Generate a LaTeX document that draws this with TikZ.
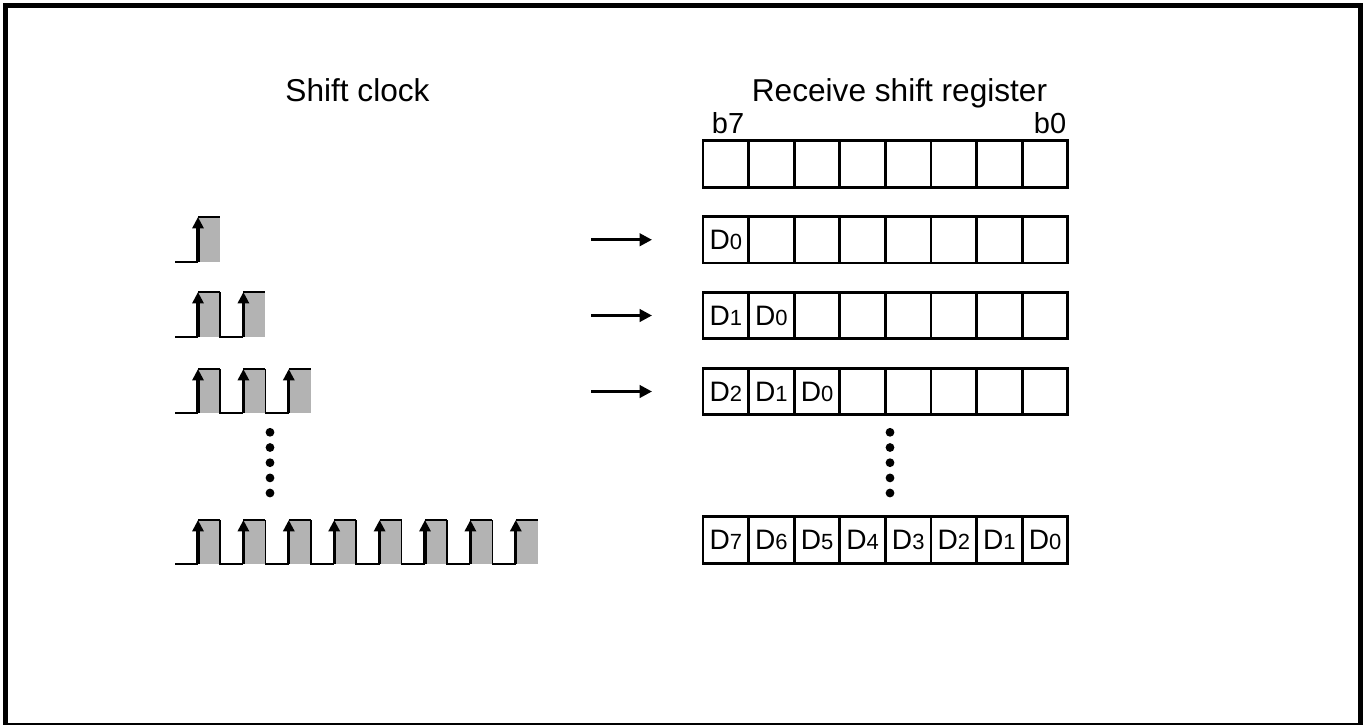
\documentclass[tikz,border=0pt]{standalone}
\usepackage{fontspec}
\setmainfont{Liberation Sans}
\usetikzlibrary{arrows.meta}
\definecolor{pulsegray}{RGB}{179,179,179}
\newcommand{\dbit}[1]{D{\fontsize{12.5}{15}\selectfont #1}}

\begin{document}
\begin{tikzpicture}[x=0.02cm,y=-0.02cm,
    cell/.style={draw,line width=1.5pt,minimum width=0.912cm,minimum height=0.93cm,inner sep=0pt,font=\fontsize{16}{19}\selectfont},
    edge/.style={line width=1pt},
    rise/.style={line width=1.9pt,-{Triangle[length=6.5pt,width=6.3pt]}},
    shiftarrow/.style={line width=1.6pt,-{Triangle[length=7pt,width=7pt]}}]
  \useasboundingbox (0,0) rectangle (1371,724);
  \draw[line width=2.85pt] (5.5,5.5) rectangle (1360.5,725.5);
  \node[anchor=base,font=\fontsize{18}{21}\selectfont] (clk) at (357.5,101) {Shift clock};
  \node[anchor=base,font=\fontsize{18}{21}\selectfont] (rsr) at (899.5,101) {Receive shift register};
  \node[anchor=base,font=\fontsize{16.5}{19}\selectfont] (b7) at (728,133) {b7};
  \node[anchor=base,font=\fontsize{16.5}{19}\selectfont] (b0) at (1050,133) {b0};
  % register contents
  \foreach \r/\y in {0/164,1/239.75,2/315.5,3/391.5,8/540} {
    \foreach \i in {0,...,7} {
      \pgfmathtruncatemacro\d{\r-1-\i}
      \node[cell] (reg\r-\i) at (725.8+45.6*\i,\y) {\ifnum\d<0 \else\dbit{\d}\fi};
    }
  }
  \foreach \r/\y in {1/239.75,2/315.5,3/391.5} {
    \coordinate (s\r) at (591,\y);
    \coordinate (e\r) at (652,\y);
    \draw[shiftarrow] (s\r) -- (e\r);
  }
  % clock pulses
  \foreach \n/\lo/\hi in {1/262/217,2/337/292,3/413/369,8/564/520} {
    \draw[edge] (175,\lo) -- (198,\lo);
    \foreach \k in {1,...,\n} {
      \pgfmathsetmacro\xr{198+45.4*(\k-1)}
      \fill[pulsegray] (\xr,\hi) rectangle (\xr+22,\lo);
      \draw[edge] (\xr,\hi) -- (\xr+22,\hi);
      \ifnum\k<\n \draw[edge] (\xr+22,\hi) -- (\xr+22,\lo) -- (\xr+45.4,\lo);\fi
      \draw[rise] (\xr,\lo) -- (\xr,\hi);
    }
  }
  \foreach \y in {432.3,447.5,462.7,477.9,493} {
    \fill (270,\y) circle[radius=2.5pt];
    \fill (890,\y) circle[radius=2.5pt];
  }
\end{tikzpicture}
\end{document}
